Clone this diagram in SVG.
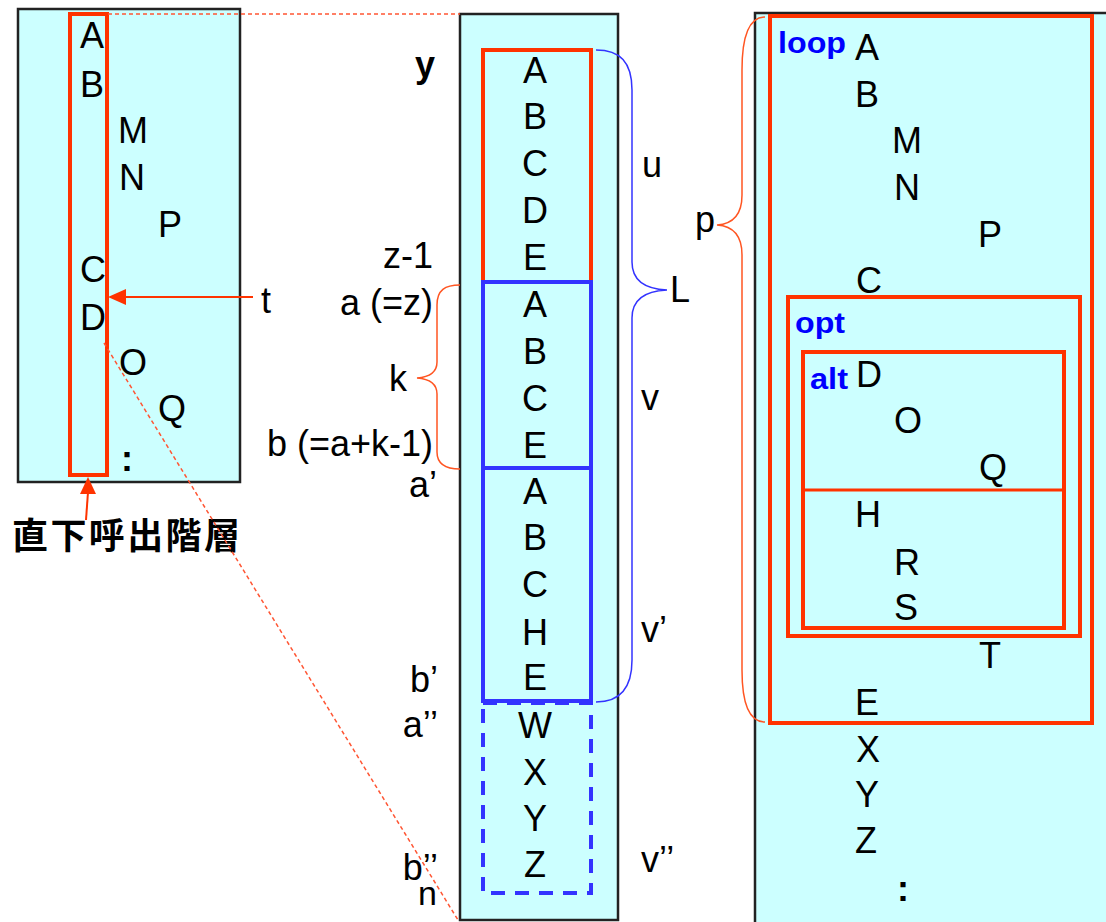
<svg xmlns="http://www.w3.org/2000/svg" width="1106" height="922" viewBox="0 0 1106 922">
<defs>
<style>
.box{fill:#ccffff;stroke:#222;stroke-width:2.5}
.red{fill:none;stroke:#ff3300;stroke-width:4}
.blue{fill:none;stroke:#3333ff;stroke-width:4}
.bdash{fill:none;stroke:#3333ff;stroke-width:4;stroke-dasharray:14 10}
.t{font-family:"Liberation Sans",Arial,sans-serif;font-size:36px;fill:#000}
.c{text-anchor:middle}
.kw{font-family:"Liberation Sans",Arial,sans-serif;font-size:30px;font-weight:bold;fill:#0000ff}
.brace-r{fill:none;stroke:#ff5522;stroke-width:1.5}
.brace-b{fill:none;stroke:#3333ff;stroke-width:1.5}
.dot{fill:none;stroke:#ff5533;stroke-width:1.5;stroke-dasharray:4 3}
.arr{stroke:#ff3300;stroke-width:2;fill:none}
.head{fill:#ff3300}
</style>
</defs>
<rect width="1106" height="922" fill="#fff"/>

<g id="left-box">
<rect class="box" x="18" y="9" width="222" height="473"/>
<rect class="red" x="70" y="14" width="37" height="461"/>
<g class="t c">
<text x="92" y="48">A</text>
<text x="92" y="97">B</text>
<text x="133" y="143">M</text>
<text x="132" y="190">N</text>
<text x="170" y="237">P</text>
<text x="93" y="282">C</text>
<text x="93" y="330">D</text>
<text x="133" y="375">O</text>
<text x="172" y="421">Q</text>
<text x="127" y="471" font-weight="bold">:</text>
</g>
</g>

<g id="middle-box">
<rect class="box" x="460" y="14" width="158" height="906"/>
<rect class="red" x="483" y="50" width="108" height="232"/>
<rect class="blue" x="483" y="282" width="108" height="186"/>
<rect class="blue" x="483" y="468" width="108" height="233"/>
<rect class="bdash" x="483" y="703" width="108" height="190"/>
<g class="t c">
<text x="535" y="83">A</text>
<text x="535" y="129">B</text>
<text x="535" y="176">C</text>
<text x="535" y="223">D</text>
<text x="535" y="270">E</text>
<text x="535" y="317">A</text>
<text x="535" y="364">B</text>
<text x="535" y="411">C</text>
<text x="535" y="458">E</text>
<text x="535" y="504">A</text>
<text x="535" y="550">B</text>
<text x="535" y="597">C</text>
<text x="535" y="645">H</text>
<text x="535" y="690">E</text>
<text x="535" y="738">W</text>
<text x="535" y="785">X</text>
<text x="535" y="831">Y</text>
<text x="535" y="877">Z</text>
</g>
</g>

<g id="right-box">
<rect class="box" x="755" y="13" width="360" height="920"/>
<rect class="red" x="770" y="16" width="322" height="707"/>
<rect class="red" x="788" y="297" width="292" height="339"/>
<rect class="red" x="803" y="352" width="261" height="276"/>
<line x1="803" y1="490" x2="1064" y2="490" stroke="#ff3300" stroke-width="3"/>
<text class="kw" x="778" y="53" textLength="68" lengthAdjust="spacingAndGlyphs">loop</text>
<text class="kw" x="795" y="333" textLength="50" lengthAdjust="spacingAndGlyphs">opt</text>
<text class="kw" x="810" y="389" textLength="38" lengthAdjust="spacingAndGlyphs">alt</text>
<g class="t c">
<text x="867" y="60">A</text>
<text x="867" y="107">B</text>
<text x="907" y="153">M</text>
<text x="907" y="200">N</text>
<text x="990" y="247">P</text>
<text x="869" y="293">C</text>
<text x="869" y="387">D</text>
<text x="908" y="433">O</text>
<text x="993" y="480">Q</text>
<text x="868" y="527">H</text>
<text x="907" y="575">R</text>
<text x="906" y="620">S</text>
<text x="990" y="668">T</text>
<text x="867" y="715">E</text>
<text x="868" y="762">X</text>
<text x="867" y="807">Y</text>
<text x="866" y="853">Z</text>
<text x="903" y="901" font-weight="bold">:</text>
</g>
</g>

<g id="labels" class="t">
<text x="415" y="77" font-weight="bold">y</text>
<text x="433" y="268" text-anchor="end">z-1</text>
<text x="433" y="315" text-anchor="end">a (=z)</text>
<text x="389" y="391">k</text>
<text x="433" y="456" text-anchor="end">b (=a+k-1)</text>
<text x="437" y="497" text-anchor="end">a’</text>
<text x="438" y="692" text-anchor="end">b’</text>
<text x="438" y="737" text-anchor="end">a’’</text>
<text x="438" y="880" text-anchor="end">b’’</text>
<text x="418" y="905" font-size="34">n</text>
<text x="642" y="177">u</text>
<text x="670" y="302">L</text>
<text x="641" y="410">v</text>
<text x="641" y="642">v’</text>
<text x="641" y="872">v’’</text>
<text x="695" y="232">p</text>
<text x="261" y="313">t</text>
<text x="12" y="549" font-family="'Noto Sans CJK JP','Noto Sans CJK SC',sans-serif" font-weight="bold" textLength="228" lengthAdjust="spacing">直下呼出階層</text>
</g>

<g id="connectors">
<path class="dot" d="M108 14 L460 14"/>
<path class="dot" d="M104 343 L458 920"/>
<path class="brace-r" d="M460 285 C445 285 437 290 437 305 L437 362 C437 372 430 377 417 378 C430 379 437 384 437 394 L437 452 C437 464 445 469 460 469"/>
<path class="brace-b" d="M596 50 C620 50 632 62 632 90 L632 262 C632 280 645 289 667 290 C645 291 632 300 632 318 L632 660 C632 688 620 702 596 702"/>
<path class="brace-r" d="M765 17 C750 17 742 35 742 70 L742 195 C742 215 732 224 717 225 C732 226 742 235 742 255 L742 670 C742 705 750 722 765 722"/>
<line class="arr" x1="253" y1="297" x2="124" y2="297"/>
<polygon class="head" points="108,297 126,289 126,305"/>
<line class="arr" x1="86" y1="520" x2="88" y2="492"/>
<polygon class="head" points="88,477 80,494 96,494"/>
</g>
</svg>
